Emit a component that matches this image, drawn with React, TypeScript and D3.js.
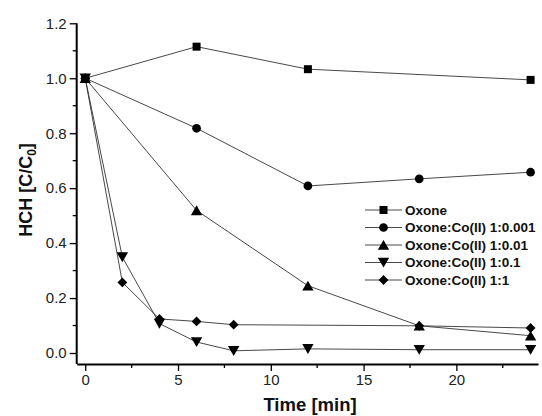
import React, { useEffect, useRef } from 'react';
import * as d3 from 'd3';

const seriesNames = [
  'Oxone',
  'Oxone:Co(II) 1:0.001',
  'Oxone:Co(II) 1:0.01',
  'Oxone:Co(II) 1:0.1',
  'Oxone:Co(II) 1:1',
];

const oxoneTime = [0, 6, 12, 24];
const oxoneValues = [1.0, 1.115, 1.033, 0.994];

const co0001Time = [0, 6, 12, 18, 24];
const co0001Values = [1.0, 0.818, 0.608, 0.634, 0.658];

const co001Time = [0, 6, 12, 18, 24];
const co001Values = [1.0, 0.519, 0.245, 0.099, 0.063];

const co01Time = [0, 2, 4, 6, 8, 12, 18, 24];
const co01Values = [1.0, 0.349, 0.107, 0.04, 0.008, 0.015, 0.012, 0.012];

const co1Time = [0, 2, 4, 6, 8, 18, 24];
const co1Values = [1.0, 0.257, 0.124, 0.115, 0.103, 0.099, 0.091];

const xTicks = [0, 5, 10, 15, 20];
const yTicks = [0, 0.2, 0.4, 0.6, 0.8, 1.0, 1.2];

// marker shape for each series, same order as seriesNames
const markers = [
  { type: d3.symbolSquare, size: 64, rotate: 0 },
  { type: d3.symbolCircle, size: 60, rotate: 0 },
  { type: d3.symbolTriangle, size: 56, rotate: 0 },
  { type: d3.symbolTriangle, size: 56, rotate: 180 },
  { type: d3.symbolSquare, size: 48, rotate: 45 },
];

export default function App() {
  const ref = useRef<SVGSVGElement>(null);

  useEffect(() => {
    const width = 542;
    const height = 416;
    const svg = d3.select(ref.current);
    svg.selectAll('*').remove();

    const x = d3.scaleLinear().domain([-0.46, 24.4]).range([76.7, 538]);
    const y = d3.scaleLinear().domain([-0.04, 1.2]).range([364, 23.3]);

    const series = [
      { t: oxoneTime, v: oxoneValues },
      { t: co0001Time, v: co0001Values },
      { t: co001Time, v: co001Values },
      { t: co01Time, v: co01Values },
      { t: co1Time, v: co1Values },
    ].map((s, i) => ({
      name: seriesNames[i],
      marker: markers[i],
      points: s.t.map((t, j) => ({ t, v: s.v[j] })),
    }));

    const font = 'Liberation Sans, Arial, sans-serif';

    // minor ticks
    const yMinor = d3.range(0.1, 1.2, 0.2);
    const xMinor = [2.5, 7.5, 12.5, 17.5, 22.5];

    const yAxis = svg.append('g').attr('transform', `translate(${x.range()[0]},0)`);
    yAxis
      .call(
        d3
          .axisLeft(y)
          .tickValues(yTicks)
          .tickSize(7)
          .tickSizeOuter(0)
          .tickPadding(3)
          .tickFormat(d3.format('.1f'))
      )
      .call((g) => g.select('.domain').attr('stroke-width', 2).attr('d', `M0,${y(1.2)}V${y.range()[0]}`))
      .call((g) => g.selectAll('.tick line').attr('stroke-width', 1.3))
      .call((g) =>
        g.selectAll('.tick text').attr('font-size', 15).attr('font-family', font).attr('fill', '#222')
      );
    yAxis
      .selectAll('.minor')
      .data(yMinor)
      .join('line')
      .attr('x1', -4)
      .attr('x2', 0)
      .attr('y1', (d) => y(d))
      .attr('y2', (d) => y(d))
      .attr('stroke', '#000')
      .attr('stroke-width', 1.3);

    const xAxis = svg.append('g').attr('transform', `translate(0,${y.range()[0]})`);
    xAxis
      .call(d3.axisBottom(x).tickValues(xTicks).tickSize(7).tickSizeOuter(0).tickPadding(3))
      .call((g) => g.select('.domain').attr('stroke-width', 2))
      .call((g) => g.selectAll('.tick line').attr('stroke-width', 1.3))
      .call((g) =>
        g.selectAll('.tick text').attr('font-size', 15).attr('font-family', font).attr('fill', '#222')
      );
    xAxis
      .selectAll('.minor')
      .data(xMinor)
      .join('line')
      .attr('x1', (d) => x(d))
      .attr('x2', (d) => x(d))
      .attr('y1', 0)
      .attr('y2', 4)
      .attr('stroke', '#000')
      .attr('stroke-width', 1.3);

    const line = d3
      .line<{ t: number; v: number }>()
      .x((d) => x(d.t))
      .y((d) => y(d.v));

    const symbolPath = (m: typeof markers[number]) => d3.symbol().type(m.type).size(m.size)();
    const markerShift = (m: typeof markers[number]) =>
      m.rotate === 180 ? -1.5 : m.type === d3.symbolTriangle ? 1.5 : 0;

    series.forEach((s) => {
      svg
        .append('path')
        .datum(s.points)
        .attr('fill', 'none')
        .attr('stroke', '#333')
        .attr('stroke-width', 0.9)
        .attr('d', line);
    });

    series.forEach((s) => {
      svg
        .append('g')
        .selectAll('path')
        .data(s.points)
        .join('path')
        .attr('d', symbolPath(s.marker))
        .attr(
          'transform',
          (d) => `translate(${x(d.t)},${y(d.v) + markerShift(s.marker)}) rotate(${s.marker.rotate})`
        )
        .attr('fill', '#000');
    });

    // legend
    const legend = svg.append('g').attr('transform', 'translate(365,210)');
    series.forEach((s, i) => {
      const row = legend.append('g').attr('transform', `translate(0,${i * 17.5})`);
      row.append('line').attr('x1', 0).attr('x2', 37).attr('stroke', '#333').attr('stroke-width', 0.9);
      row
        .append('path')
        .attr('d', symbolPath(s.marker))
        .attr('transform', `translate(18.5,${markerShift(s.marker)}) rotate(${s.marker.rotate})`)
        .attr('fill', '#000');
      row
        .append('text')
        .attr('x', 40)
        .attr('dy', '0.35em')
        .attr('font-family', font)
        .attr('font-weight', 'bold')
        .attr('font-size', 13.5)
        .attr('fill', '#111')
        .text(s.name);
    });

    // axis titles
    svg
      .append('text')
      .attr('x', 310)
      .attr('y', 411)
      .attr('text-anchor', 'middle')
      .attr('font-family', font)
      .attr('font-weight', 'bold')
      .attr('font-size', 18.5)
      .attr('fill', '#111')
      .text('Time [min]');

    const yTitle = svg
      .append('text')
      .attr('transform', 'translate(32,190) rotate(-90)')
      .attr('text-anchor', 'middle')
      .attr('font-family', font)
      .attr('font-weight', 'bold')
      .attr('font-size', 18)
      .attr('fill', '#111');
    yTitle.append('tspan').text('HCH [C/C');
    yTitle.append('tspan').attr('font-size', 12).attr('dy', 4).text('0');
    yTitle.append('tspan').attr('dy', -4).text(']');

    svg.attr('width', width).attr('height', height);
  }, []);

  return (
    <svg
      ref={ref}
      width={542}
      height={416}
      style={{ position: 'absolute', left: 0, top: 0, background: '#fff' }}
    />
  );
}
